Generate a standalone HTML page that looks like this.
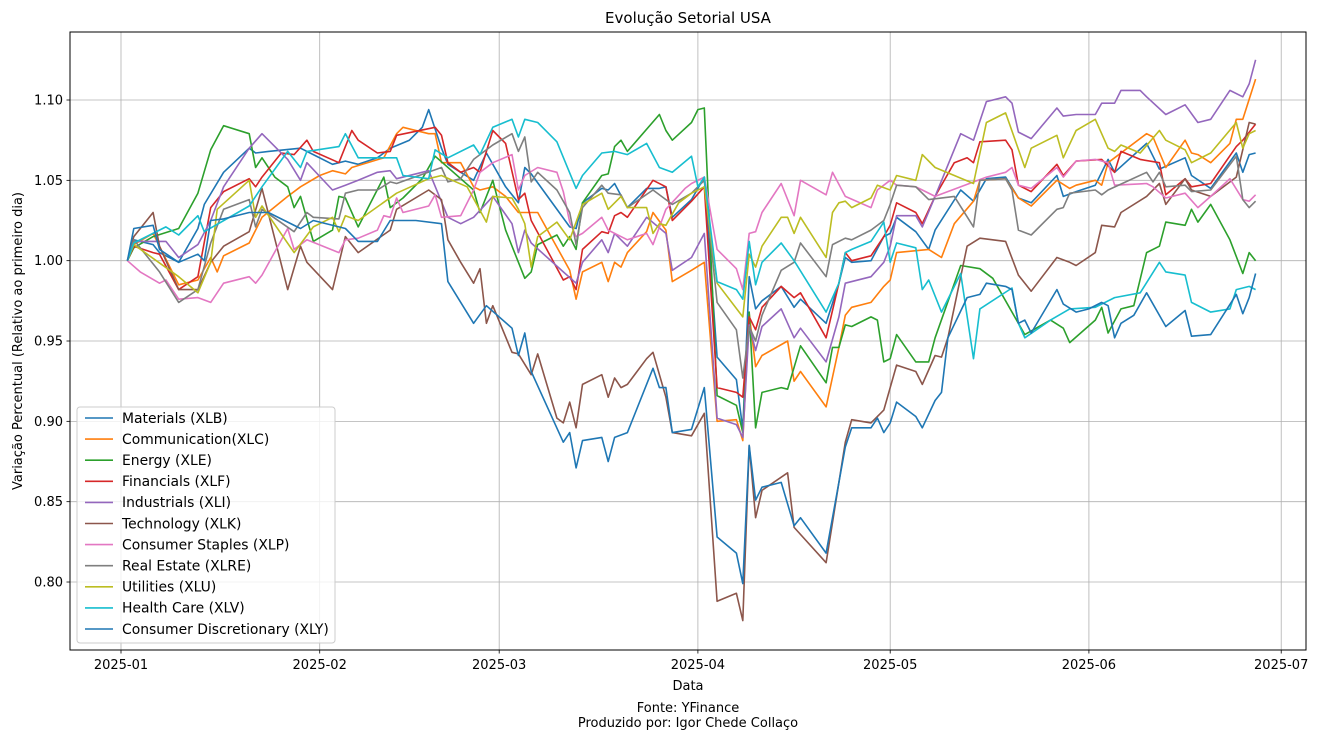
<!DOCTYPE html>
<html><head><meta charset="utf-8"><title>Evolução Setorial USA</title>
<style>
html,body{margin:0;padding:0;background:#fff;}
svg{display:block;font-family:"DejaVu Sans","Liberation Sans",sans-serif;}
</style></head>
<body>
<svg id="chart" width="1320" height="741" viewBox="0 0 1320 741" xmlns="http://www.w3.org/2000/svg">
<text x="688" y="23" font-size="15" text-anchor="middle" fill="#000">Evolução Setorial USA</text>
<g id="grid"></g>
<g id="lines"></g>
<rect x="70" y="32" width="1236" height="618" fill="none" stroke="#000" stroke-width="1"/>
<g id="ticks"></g>
<text x="688" y="690" font-size="13" text-anchor="middle">Data</text>
<text transform="translate(22,341) rotate(-90)" font-size="13" text-anchor="middle">Variação Percentual (Relativo ao primeiro dia)</text>
<text x="688" y="712" font-size="13" text-anchor="middle">Fonte: YFinance</text>
<text x="688" y="727" font-size="13" text-anchor="middle">Produzido por: Igor Chede Collaço</text>
<g id="legend"></g>
</svg>
<script>
const yTicks=[0.80,0.85,0.90,0.95,1.00,1.05,1.10];
const xTickLabels=["2025-01","2025-02","2025-03","2025-04","2025-05","2025-06","2025-07"];
const xTickDays=[0,31,59,90,120,151,181];
const seriesNames=["Materials (XLB)","Communication(XLC)","Energy (XLE)","Financials (XLF)","Industrials (XLI)","Technology (XLK)","Consumer Staples (XLP)","Real Estate (XLRE)","Utilities (XLU)","Health Care (XLV)","Consumer Discretionary (XLY)"];
const seriesColors=["#1f77b4","#ff7f0e","#2ca02c","#d62728","#9467bd","#8c564b","#e377c2","#7f7f7f","#bcbd22","#17becf","#1f77b4"];

const xlbDays=[1,2,5,6,9,12,13,16,20,21,23,28,30,33,35,37,40,42,45,47,48,50,51,53,55,57,60,62,63,64,70,71,72,75,76,77,79,82,84,85,86,89,91,93,96,97,98,99,100,103,105,106,110,112,113,114,117,119,120,121,124,126,127,131,133,135,138,140,142,146,147,149,152,154,155,160,161,162,166,167,170,174,175,176,177];
const xlbVals=[1.0,1.013,1.01,1.005,0.999,1.02,1.035,1.055,1.07,1.067,1.068,1.07,1.066,1.06,1.062,1.06,1.064,1.07,1.075,1.083,1.094,1.07,1.06,1.055,1.05,1.067,1.046,1.036,1.058,1.054,1.021,1.020,1.036,1.045,1.044,1.048,1.033,1.045,1.045,1.046,1.027,1.038,1.052,0.940,0.926,0.895,0.99,0.97,0.975,0.984,0.971,0.976,0.961,0.986,1.002,0.999,1.000,1.015,1.017,1.027,1.018,1.007,1.019,1.044,1.037,1.051,1.052,1.039,1.036,1.053,1.040,1.043,1.047,1.063,1.055,1.073,1.065,1.057,1.064,1.053,1.045,1.067,1.055,1.066,1.067];

const xlcDays=[1,2,5,9,12,14,15,16,20,22,26,28,31,33,35,36,41,43,44,48,49,50,53,55,56,58,60,62,65,70,71,72,75,76,77,78,79,82,83,85,86,89,91,93,96,97,98,99,100,104,105,106,110,112,113,114,117,119,120,121,126,128,130,133,134,138,140,142,146,148,149,152,153,154,160,161,163,166,167,168,170,173,174,175,177];
const xlcVals=[1.0,1.010,1.017,0.985,0.988,1.002,0.993,1.003,1.011,1.027,1.040,1.046,1.053,1.056,1.054,1.058,1.064,1.079,1.083,1.079,1.079,1.061,1.061,1.046,1.044,1.046,1.040,1.030,1.030,0.994,0.976,0.993,0.999,0.987,0.999,0.996,1.005,1.018,1.030,1.019,0.987,0.994,0.999,0.900,0.901,0.888,0.967,0.934,0.941,0.950,0.925,0.931,0.909,0.946,0.966,0.971,0.974,0.984,0.988,1.005,1.007,1.002,1.023,1.037,1.050,1.051,1.039,1.034,1.050,1.045,1.047,1.050,1.047,1.061,1.079,1.077,1.058,1.075,1.067,1.066,1.061,1.073,1.088,1.088,1.113];

const xleDays=[1,2,5,9,12,14,16,20,21,22,24,26,27,28,30,33,34,35,37,41,42,44,47,49,55,56,58,60,63,64,65,68,69,70,71,72,75,76,77,78,79,84,85,86,89,90,91,93,96,97,98,99,100,103,104,106,110,111,112,113,114,117,118,119,120,121,124,126,127,131,134,136,140,141,145,147,148,152,153,154,156,158,160,162,163,166,167,168,170,173,175,176,177];
const xleVals=[1.0,1.008,1.015,1.020,1.042,1.069,1.084,1.079,1.058,1.064,1.052,1.046,1.033,1.040,1.012,1.019,1.040,1.039,1.021,1.052,1.033,1.039,1.051,1.065,1.044,1.030,1.050,1.019,0.989,0.993,1.010,1.016,1.009,1.015,1.007,1.036,1.053,1.054,1.071,1.075,1.068,1.091,1.081,1.075,1.086,1.094,1.095,0.916,0.910,0.893,0.968,0.896,0.918,0.921,0.920,0.947,0.924,0.946,0.946,0.960,0.959,0.965,0.963,0.937,0.939,0.954,0.937,0.937,0.952,0.997,0.995,0.989,0.961,0.954,0.963,0.958,0.949,0.963,0.971,0.955,0.970,0.972,1.005,1.009,1.024,1.022,1.032,1.024,1.035,1.013,0.992,1.005,1.000];

const xlfDays=[1,2,5,6,9,12,14,16,20,21,22,25,27,29,30,34,36,37,40,42,43,49,50,51,53,55,56,58,60,62,63,64,69,70,71,72,75,76,77,78,79,83,85,86,89,91,93,96,97,98,99,100,103,105,106,110,112,113,114,117,119,120,121,124,125,127,130,132,133,134,138,139,140,142,146,147,149,153,155,156,159,162,163,166,167,170,174,175,177];
const xlfVals=[1.0,1.009,1.005,1.004,0.982,0.990,1.033,1.043,1.051,1.046,1.052,1.067,1.066,1.075,1.068,1.061,1.081,1.075,1.067,1.068,1.078,1.083,1.078,1.061,1.055,1.058,1.055,1.081,1.073,1.038,1.042,1.025,0.988,0.990,0.982,1.007,1.018,1.017,1.028,1.030,1.027,1.050,1.046,1.025,1.037,1.046,0.921,0.918,0.915,0.965,0.957,0.971,0.984,0.977,0.980,0.952,0.986,1.005,1.000,1.003,1.015,1.022,1.036,1.030,1.023,1.040,1.061,1.064,1.061,1.074,1.075,1.069,1.047,1.043,1.060,1.053,1.062,1.063,1.055,1.068,1.063,1.061,1.041,1.051,1.046,1.048,1.071,1.075,1.085];

const xliDays=[1,2,7,9,12,14,16,20,22,26,28,29,33,35,37,40,42,43,48,51,53,55,58,61,62,63,64,69,71,72,75,76,77,79,82,85,86,89,91,93,96,97,98,99,100,103,105,106,110,112,113,117,119,120,121,124,125,127,131,133,135,138,139,140,142,146,147,149,152,153,155,156,159,160,163,166,168,170,173,175,176,177];
const xliVals=[1.0,1.012,1.012,1.002,1.010,1.025,1.046,1.070,1.079,1.063,1.050,1.061,1.044,1.047,1.050,1.055,1.056,1.051,1.056,1.027,1.023,1.027,1.040,1.023,1.005,1.019,1.011,0.993,0.986,0.999,1.013,1.005,1.017,1.009,1.027,1.017,0.994,1.002,1.017,0.902,0.898,0.890,0.960,0.944,0.959,0.970,0.952,0.958,0.937,0.965,0.986,0.990,0.999,1.009,1.028,1.028,1.021,1.040,1.079,1.075,1.099,1.102,1.098,1.080,1.076,1.095,1.090,1.091,1.091,1.098,1.098,1.106,1.106,1.102,1.091,1.097,1.086,1.088,1.106,1.102,1.11,1.125];

const xlkDays=[1,2,5,6,9,12,14,16,20,22,26,28,29,33,35,37,42,43,48,50,51,53,55,56,57,58,61,62,64,65,68,69,70,71,72,75,76,77,78,79,82,83,85,86,89,91,93,96,97,98,99,100,104,105,110,113,114,117,119,121,124,125,127,128,129,132,134,138,140,142,146,148,149,152,153,155,156,160,162,163,166,167,170,174,176,177];
const xlkVals=[1.0,1.015,1.030,1.009,0.982,0.982,0.999,1.009,1.018,1.045,0.982,1.009,0.999,0.982,1.015,1.005,1.019,1.032,1.044,1.038,1.013,0.999,0.986,0.995,0.961,0.972,0.943,0.942,0.929,0.942,0.902,0.899,0.912,0.896,0.923,0.929,0.915,0.927,0.921,0.923,0.939,0.943,0.915,0.893,0.891,0.905,0.788,0.793,0.776,0.885,0.840,0.857,0.868,0.834,0.812,0.887,0.901,0.899,0.907,0.935,0.931,0.923,0.941,0.940,0.952,1.009,1.014,1.012,0.991,0.981,1.002,0.999,0.997,1.005,1.022,1.021,1.030,1.040,1.048,1.035,1.051,1.044,1.040,1.052,1.086,1.085];

const xlpDays=[1,3,6,7,9,12,14,16,20,21,22,26,27,29,34,35,37,40,41,42,43,44,48,49,50,53,55,56,58,61,62,63,65,68,69,70,71,72,75,76,79,82,83,85,88,89,91,93,96,97,98,99,100,103,105,106,110,111,113,117,118,120,121,124,125,127,135,138,139,140,142,146,147,149,152,154,155,160,161,163,166,168,170,173,175,176,177];
const xlpVals=[1.0,0.993,0.986,0.988,0.976,0.977,0.974,0.986,0.990,0.986,0.991,1.020,1.007,1.013,1.005,1.013,1.014,1.019,1.028,1.027,1.039,1.030,1.034,1.041,1.027,1.028,1.044,1.055,1.061,1.066,1.044,1.053,1.058,1.055,1.043,1.024,1.015,1.017,1.027,1.019,1.013,1.017,1.010,1.032,1.045,1.048,1.052,1.007,0.995,0.982,1.017,1.018,1.030,1.048,1.028,1.050,1.041,1.055,1.040,1.033,1.044,1.050,1.047,1.046,1.044,1.040,1.052,1.055,1.058,1.047,1.045,1.058,1.052,1.062,1.063,1.061,1.047,1.048,1.046,1.039,1.042,1.033,1.040,1.051,1.038,1.037,1.041];

const xlreDays=[1,2,6,9,12,14,16,20,21,22,27,29,30,34,35,37,40,42,43,50,51,53,55,58,61,62,63,64,65,68,70,71,72,75,76,78,79,83,85,86,89,91,93,96,97,98,99,100,103,105,106,110,111,113,114,117,119,120,121,124,126,130,133,134,138,139,140,142,146,147,148,152,153,154,160,161,162,163,166,167,170,174,175,176,177];
const xlreVals=[1.0,1.013,0.993,0.974,0.982,1.011,1.032,1.038,1.021,1.032,1.018,1.030,1.027,1.026,1.042,1.044,1.044,1.049,1.048,1.058,1.049,1.051,1.063,1.072,1.079,1.068,1.077,1.049,1.055,1.044,1.030,1.010,1.033,1.047,1.042,1.041,1.033,1.044,1.038,1.035,1.042,1.050,0.974,0.957,0.927,0.959,0.950,0.966,0.994,0.999,1.011,0.990,1.010,1.014,1.013,1.019,1.025,1.035,1.047,1.046,1.038,1.040,1.021,1.050,1.051,1.044,1.019,1.016,1.032,1.033,1.042,1.044,1.041,1.044,1.055,1.049,1.055,1.046,1.047,1.043,1.044,1.065,1.038,1.033,1.037];

const xluDays=[1,2,9,12,14,15,20,21,22,27,30,33,34,35,37,43,48,50,54,57,58,61,62,63,64,65,68,70,72,75,76,78,79,82,83,84,85,87,89,91,93,97,98,99,100,103,104,105,106,110,111,112,113,114,117,118,120,121,124,125,127,133,135,138,141,142,146,147,149,152,154,155,156,159,162,163,166,167,170,174,175,176,177];
const xluVals=[1.0,1.010,0.990,0.980,0.999,1.032,1.050,1.027,1.034,1.005,1.021,1.027,1.018,1.028,1.025,1.042,1.051,1.053,1.046,1.024,1.040,1.039,1.032,1.023,0.996,1.015,1.024,1.013,1.035,1.042,1.032,1.040,1.033,1.033,1.017,1.023,1.022,1.036,1.042,1.046,0.986,0.965,1.004,0.996,1.009,1.027,1.027,1.017,1.027,1.002,1.030,1.036,1.037,1.033,1.039,1.047,1.044,1.053,1.050,1.066,1.058,1.048,1.086,1.092,1.058,1.070,1.078,1.064,1.081,1.088,1.070,1.068,1.072,1.067,1.081,1.075,1.069,1.061,1.067,1.086,1.070,1.079,1.081];

const xlvDays=[1,2,7,9,12,13,20,22,26,28,29,34,35,37,43,44,48,49,51,55,56,58,61,62,63,65,68,71,72,75,77,79,82,84,86,89,90,91,93,96,97,98,99,100,103,105,110,112,113,114,117,119,120,121,124,125,126,128,131,133,134,139,140,141,145,148,152,155,159,162,163,166,167,170,173,174,176,177];
const xlvVals=[1.0,1.011,1.021,1.016,1.028,1.018,1.034,1.046,1.068,1.058,1.068,1.071,1.079,1.064,1.064,1.053,1.051,1.069,1.064,1.072,1.066,1.083,1.088,1.077,1.088,1.086,1.074,1.045,1.053,1.067,1.068,1.066,1.073,1.058,1.055,1.065,1.046,1.052,0.987,0.982,0.976,1.012,0.985,0.999,1.011,1.000,0.968,0.986,1.005,1.007,1.012,1.024,0.999,1.011,1.008,0.982,0.988,0.968,0.992,0.939,0.970,0.983,0.961,0.952,0.963,0.970,0.971,0.977,0.980,0.999,0.993,0.991,0.974,0.968,0.970,0.982,0.984,0.982];

const xlyDays=[1,2,5,6,9,12,13,14,16,20,23,28,30,35,37,40,42,46,50,51,55,57,61,62,63,64,69,70,71,72,75,76,77,79,83,84,85,86,89,91,93,96,97,98,99,100,103,105,106,110,113,114,117,118,119,120,121,124,125,127,128,129,132,134,135,138,139,140,141,142,146,147,149,151,153,154,155,156,158,160,163,166,167,170,174,175,176,177];
const xlyVals=[1.0,1.02,1.022,1.007,0.999,1.004,1.0,1.025,1.026,1.03,1.03,1.02,1.025,1.02,1.012,1.012,1.025,1.025,1.023,0.987,0.961,0.972,0.958,0.941,0.955,0.931,0.887,0.893,0.871,0.888,0.890,0.875,0.890,0.893,0.933,0.921,0.921,0.893,0.895,0.921,0.828,0.818,0.799,0.885,0.851,0.859,0.862,0.835,0.840,0.818,0.884,0.896,0.896,0.902,0.893,0.899,0.912,0.903,0.896,0.913,0.918,0.952,0.977,0.979,0.986,0.984,0.982,0.961,0.963,0.955,0.982,0.973,0.968,0.970,0.974,0.972,0.952,0.961,0.966,0.980,0.959,0.969,0.953,0.954,0.979,0.967,0.977,0.992];

const allDays=[xlbDays,xlcDays,xleDays,xlfDays,xliDays,xlkDays,xlpDays,xlreDays,xluDays,xlvDays,xlyDays];
const allVals=[xlbVals,xlcVals,xleVals,xlfVals,xliVals,xlkVals,xlpVals,xlreVals,xluVals,xlvVals,xlyVals];

const NS="http://www.w3.org/2000/svg";
const PL=70,PT=32,PR=1306,PB=650;
const X0=121,XD=6.41;
function xs(d){return X0+d*XD;}
function ys(v){return 100+(1.10-v)*1606.7;}
function mk(tag,attrs,parent){const e=document.createElementNS(NS,tag);for(const k in attrs)e.setAttribute(k,attrs[k]);parent.appendChild(e);return e;}

const grid=document.getElementById('grid');
const ticks=document.getElementById('ticks');
yTicks.forEach(v=>{
  const y=ys(v);
  const g=mk('line',{x1:PL,x2:PR,y1:y,y2:y,stroke:'#b0b0b0','stroke-width':0.8},grid);
  
  
  mk('line',{x1:PL-3.5,x2:PL,y1:y,y2:y,stroke:'#000','stroke-width':0.8},ticks);
  const t=mk('text',{x:PL-7,y:y+4.5,'font-size':13,'text-anchor':'end'},ticks);
  t.textContent=v.toFixed(2);
  
  
});
xTickDays.forEach((d,i)=>{
  const x=xs(d);
  const g=mk('line',{x1:x,x2:x,y1:PT,y2:PB,stroke:'#b0b0b0','stroke-width':0.8},grid);
  
  
  mk('line',{x1:x,x2:x,y1:PB,y2:PB+3.5,stroke:'#000','stroke-width':0.8},ticks);
  const t=mk('text',{x:x,y:PB+19,'font-size':13,'text-anchor':'middle'},ticks);
  t.textContent=xTickLabels[i];
  
  
});

const lines=document.getElementById('lines');
allDays.forEach((days,i)=>{
  const vals=allVals[i];
  const n=Math.min(days.length,vals.length);
  let d='';
  for(let k=0;k<n;k++){d+=(k?'L':'M')+xs(days[k]).toFixed(1)+' '+ys(vals[k]).toFixed(1);}
  const p=mk('path',{d:d,fill:'none',stroke:seriesColors[i],'stroke-width':1.6,'stroke-linejoin':'round'},lines);
  
  
});

const legend=document.getElementById('legend');
const lb=mk('rect',{x:77,y:407,width:258,height:236,rx:3,fill:'#fff','fill-opacity':0.8,stroke:'#cccccc','stroke-width':1},legend);


seriesNames.forEach((nm,i)=>{
  const y=418+i*21.1;
  const g=mk('g',{},legend);
  
  
  mk('line',{x1:85,x2:113,y1:y,y2:y,stroke:seriesColors[i],'stroke-width':1.6},g);
  const t=mk('text',{x:122,y:y+4.8,'font-size':13.9},g);
  t.textContent=nm;
});
</script>
</body></html>
